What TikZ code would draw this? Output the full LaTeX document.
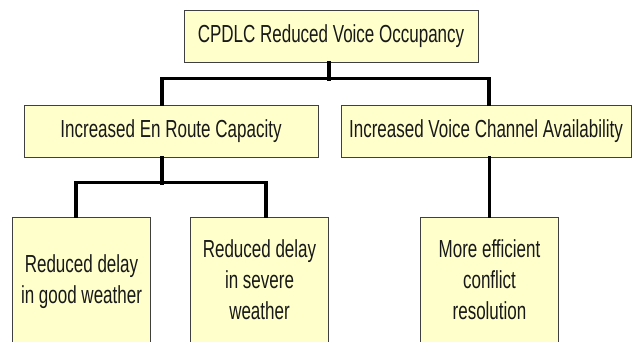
\documentclass[tikz,border=0pt]{standalone}
\usepackage{fontspec}
\setmainfont{Liberation Sans}
\usepackage{graphicx}
\definecolor{boxyellow}{RGB}{255,255,204}
\newcommand{\tall}[1]{\scalebox{1}[1.45]{\begin{tabular}{@{}c@{}}#1\end{tabular}}}

\begin{document}
\begin{tikzpicture}[x=1pt,y=-1pt]
   \clip (0,0) rectangle (635,342);
   \tikzstyle{box}=[draw=black!75, fill=boxyellow, line width=0.8pt, inner sep=0pt, text=black!90, font=\fontsize{17}{21.4}\selectfont]
   \tikzstyle{wide}=[box, minimum width=294pt, minimum height=52pt]
   \tikzstyle{leaf}=[box, minimum width=138pt, minimum height=130pt]
   \tikzstyle{link}=[line width=3.2pt, line cap=rect]
   \node[wide] (cpdlc) at (331,36) {\tall{CPDLC Reduced Voice Occupancy}};
   \node[wide] (capacity) at (171,131) {\tall{Increased En Route Capacity}};
   \node[wide, minimum width=290pt] (channel) at (486,131) {\tall{Increased Voice Channel Availability}};
   \node[leaf] (good) at (81.5,282) {\tall{Reduced delay\\in good weather}};
   \node[leaf] (severe) at (259.5,282) {\tall{Reduced delay\\in severe\\weather}};
   \node[leaf] (conflict) at (489.5,282) {\tall{More efficient\\conflict\\resolution}};
   \draw[link] ([xshift=-2pt]cpdlc.south) -- ++(0,17);
   \draw[link] ([xshift=-9pt]capacity.north) -- ++(0,-26) -| ([xshift=3pt]channel.north);
   \draw[link] ([xshift=-9pt]capacity.south) -- ++(0,26);
   \draw[link] ([xshift=-5.5pt]good.north) -- ++(0,-34) -| ([xshift=6.5pt]severe.north);
   \draw[link] (conflict.north) -- (conflict.north |- channel.south);
\end{tikzpicture}
\end{document}
